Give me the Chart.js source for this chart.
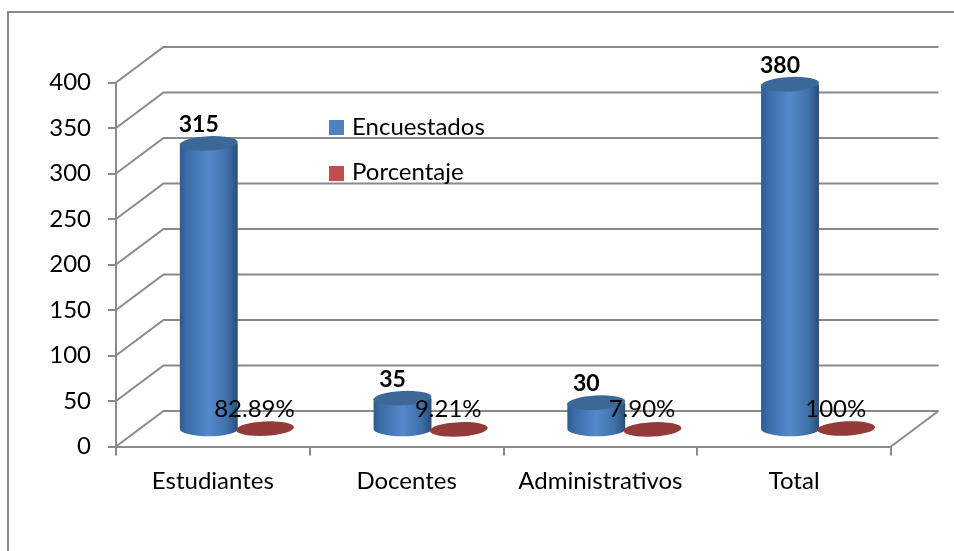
<!DOCTYPE html>
<html><head><meta charset="utf-8">
<style>html,body{margin:0;padding:0;background:#fff}canvas{display:block}</style>
<script src="https://cdn.jsdelivr.net/npm/chart.js@4"></script>
</head><body><canvas id="c" width="954" height="551"></canvas>
<script>
const categories = ["Estudiantes","Docentes","Administrativos","Total"];
const encuestados = [315,35,30,380];
const porcentaje = [0.8289,0.0921,0.079,1];
const encuestadosLabels = ["315","35","30","380"];
const porcentajeLabels = ["82.89%","9.21%","7.90%","100%"];
const yTicks = [0,50,100,150,200,250,300,350,400];

const FONT = 'Lato, Carlito, sans-serif';
const GRID = '#8a8a8a';
const DX = 47.5, DY = 35.5;      // depth of the 3D box
const BX = 24, BY = 16.5;        // bars stand mid-depth
const RY = 7.2, TILT = -0.05;

function ell(ctx,x,y,rx,ry){ctx.beginPath();ctx.ellipse(x,y,rx,ry,TILT,0,Math.PI*2);}
const box3d = {
  id:'box3d',
  beforeDatasetsDraw(chart){
    const {ctx,scales:{x,y}} = chart;
    ctx.save();
    ctx.strokeStyle = GRID; ctx.lineWidth = 2; ctx.lineJoin='miter';
    ctx.beginPath();ctx.moveTo(8,551);ctx.lineTo(8,12);ctx.lineTo(954,12);ctx.stroke();
    y.ticks.forEach(t=>{
      const py=y.getPixelForValue(t.value);
      ctx.beginPath();ctx.moveTo(x.left,py);ctx.lineTo(x.left+DX,py-DY);ctx.lineTo(x.right+DX,py-DY);ctx.stroke();
    });
    const p0=y.getPixelForValue(0);
    ctx.beginPath();ctx.moveTo(x.right,p0);ctx.lineTo(x.right+DX,p0-DY);ctx.stroke();
    ctx.restore();
  },
  afterDatasetsDraw(chart){
    const {ctx} = chart;
    const blue = chart.getDatasetMeta(0).data, red = chart.getDatasetMeta(1).data;
    ctx.save();
    blue.forEach((b,i)=>{
      const cx=b.x+BX, top=b.y-BY, base=b.base-BY, rx=b.width/2;
      const g=ctx.createLinearGradient(cx-rx,0,cx+rx,0);
      g.addColorStop(0,'#2f5b8f');g.addColorStop(.12,'#3a6ca8');g.addColorStop(.5,'#5389cb');
      g.addColorStop(.82,'#3f70a9');g.addColorStop(1,'#2a4d78');
      ctx.fillStyle=g;
      ctx.beginPath();
      ctx.moveTo(cx-rx,top);ctx.lineTo(cx-rx,base);
      ctx.ellipse(cx,base,rx,RY,0,Math.PI,0,true);
      ctx.lineTo(cx+rx,top);ctx.closePath();ctx.fill();
      ctx.fillStyle='#3c6898';ell(ctx,cx,top,rx,RY);ctx.fill();
      const r=red[i], rcx=r.x+BX, rrx=r.width/2;
      ctx.fillStyle='#943a38';ell(ctx,rcx,r.y-BY-0.6,rrx,RY);ctx.fill();
    });
    ctx.fillStyle='#000';ctx.textAlign='center';ctx.textBaseline='alphabetic';
    ctx.font='bold 23px '+FONT;
    blue.forEach((b,i)=>ctx.fillText(encuestadosLabels[i],b.x+BX-10,b.y-BY-11.5));
    ctx.font='24px '+FONT;
    red.forEach((r,i)=>ctx.fillText(porcentajeLabels[i],r.x+BX-10.5,417));
    ctx.textAlign='left';
    const ds=chart.data.datasets, rows=[[120,135,'#4f81bd'],[166,180,'#c0504d']];
    ds.forEach((d,i)=>{
      ctx.fillStyle=rows[i][2];ctx.fillRect(329,rows[i][0],15,15);
      ctx.fillStyle='#000';ctx.fillText(d.label,352,rows[i][1]);
    });
    ctx.restore();
  }
};
new Chart(document.getElementById('c'),{
  type:'bar',
  data:{labels:categories,datasets:[
    {label:'Encuestados',data:encuestados,backgroundColor:'transparent',borderWidth:0},
    {label:'Porcentaje',data:porcentaje,backgroundColor:'transparent',borderWidth:0}
  ]},
  options:{
    responsive:false,animation:false,
    categoryPercentage:0.58,barPercentage:1.03,
    layout:{padding:{left:0,top:82.5,right:63,bottom:54.5}},
    plugins:{legend:{display:false},tooltip:{enabled:false},title:{display:false}},
    scales:{
      x:{
        afterFit(s){s.height=50;},
        grid:{drawOnChartArea:false,tickLength:9,color:GRID,lineWidth:2},
        border:{color:GRID,width:2},
        ticks:{color:'#000',padding:11,font:{family:FONT,size:24},maxRotation:0,autoSkip:false}
      },
      y:{
        min:0,max:400,
        afterFit(s){s.width=116;},
        afterBuildTicks(s){s.ticks=yTicks.map(v=>({value:v}));},
        grid:{drawOnChartArea:false,tickLength:8,color:GRID,lineWidth:2},
        border:{color:GRID,width:2},
        ticks:{color:'#000',padding:17,font:{family:FONT,size:24}}
      }
    }
  },
  plugins:[box3d]
});
</script></body></html>
